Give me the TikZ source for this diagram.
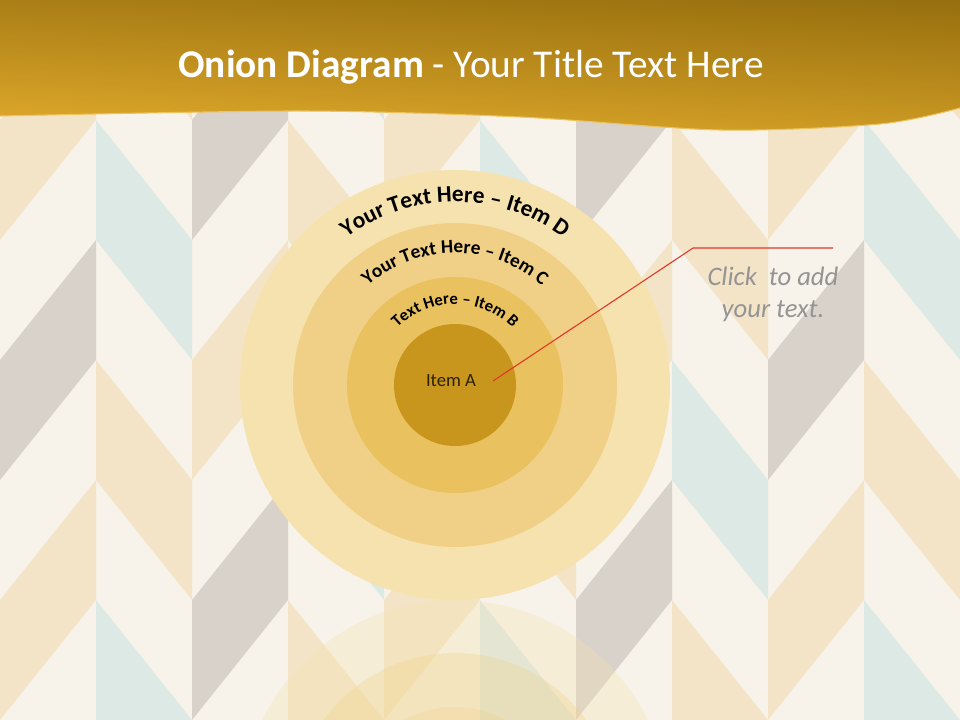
\documentclass[tikz,border=0pt]{standalone}
\usepackage{fontspec}
\setmainfont{Carlito}
\usetikzlibrary{decorations.text}
\definecolor{paperCream}{HTML}{F7F3EA}
\definecolor{tileBeige}{HTML}{F4E4C7}
\definecolor{tileGray}{HTML}{D9D2CA}
\definecolor{tileBlue}{HTML}{DDE9E4}
\definecolor{headTop}{HTML}{98700F}
\definecolor{headBottom}{HTML}{DEA82A}
\definecolor{headEdge}{HTML}{EDC35C}
\definecolor{onionD}{HTML}{F6E2AE}
\definecolor{onionC}{HTML}{F0D086}
\definecolor{onionB}{HTML}{E9C15E}
\definecolor{onionA}{HTML}{C9961D}
\definecolor{itemInk}{HTML}{2B2206}
\definecolor{calloutRed}{HTML}{E5332A}
\definecolor{hintGray}{HTML}{949494}

\begin{document}
\begin{tikzpicture}[x=0.75pt,y=0.75pt]
\useasboundingbox (0,0) rectangle (960,-720);
\fill[paperCream] (0,0) rectangle (960,-720);
% chevron tiles
\begin{scope}
\clip (0,0) rectangle (960,-720);
\foreach \t/\r/\col in {0/0/tileBeige,0/2/tileGray,1/1/tileBlue,1/3/tileBeige,2/0/tileGray,2/2/tileBeige,3/1/tileBeige,3/3/tileBlue}{
  \foreach \j in {0,1,2}{
    \foreach \i in {-1,0,1}{
      \pgfmathtruncatemacro{\k}{\t+4*\j}
      \pgfmathtruncatemacro{\ya}{-120*(\r+4*\i)}
      \pgfmathtruncatemacro{\xa}{96*(\k+1-mod(\k,2))}
      \pgfmathtruncatemacro{\xv}{96*(\k+mod(\k,2))}
      \fill[\col] (\xa,\ya) -- (\xa,\ya-120) -- (\xv,\ya-240) -- (\xv,\ya-120) -- cycle;
    }
  }
}
\end{scope}
% onion and its reflection
\coordinate (core) at (455,-385);
\coordinate (mirror) at (455,-815);
\foreach \rad/\col/\op in {215/onionD/0.3,162/onionC/0.3,108/onionB/0.15,61/onionA/0.1}{
  \fill[\col,fill opacity=\op] (mirror) circle (\rad);
  \fill[\col] (core) circle (\rad);
}
\path[decorate,decoration={text along path,text align=center,text color=black,
  text={|\bfseries\fontsize{17.5}{20}\selectfont|Your Text Here – Item D}}]
  ([shift={(160:183)}]core) arc[start angle=160,end angle=20,radius=183];
\path[decorate,decoration={text along path,text align=center,text color=black,
  text={|\bfseries\fontsize{14.5}{17}\selectfont|Your Text Here – Item C}}]
  ([shift={(165:132)}]core) arc[start angle=165,end angle=15,radius=132];
\path[decorate,decoration={text along path,text align=center,text color=black,
  text={|\bfseries\fontsize{12.5}{15}\selectfont|Text Here – Item B}}]
  ([shift={(170:81)}]core) arc[start angle=170,end angle=10,radius=81];
\node[font=\fontsize{14}{16}\selectfont,text=itemInk] (itemA) at (451,-381) {Item A};
% callout
\coordinate (pin) at (493,-381);
\coordinate (bend) at (693,-248);
\coordinate (tail) at (833,-248);
\draw[calloutRed,line width=0.8pt] (pin) -- (bend) -- (tail);
\node[font=\itshape\fontsize{20}{24}\selectfont,text=hintGray,align=center] (hint) at (773,-294) {Click\ \ to add\\your text.};
% header band
\shade[top color=headTop,bottom color=headBottom,shading angle=-3] (0,0) -- plot[smooth] coordinates {(0,-116) (300,-111) (520,-117) (720,-130) (880,-124) (960,-108)} -- (960,0) -- cycle;
\draw[headEdge,line width=0.8pt] plot[smooth] coordinates {(0,-116) (300,-111) (520,-117) (720,-130) (880,-124) (960,-108)};
\node[font=\fontsize{29.5}{34}\selectfont,text=white] (title) at (471,-67) {\textbf{Onion Diagram} - Your Title Text Here};
\end{tikzpicture}
\end{document}
